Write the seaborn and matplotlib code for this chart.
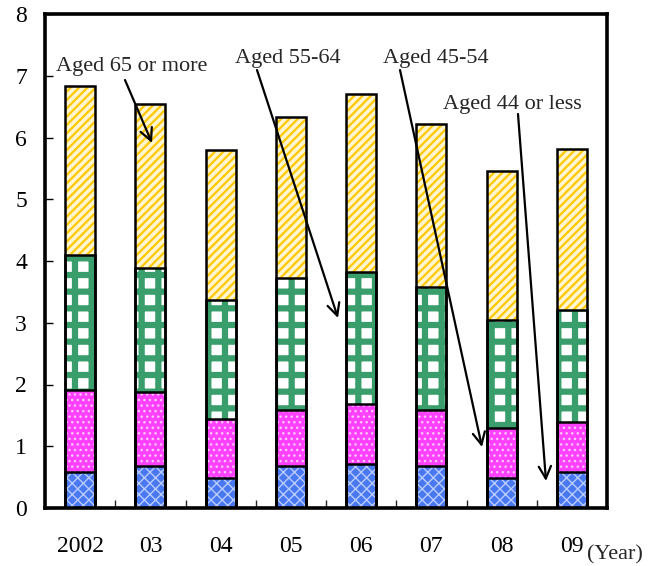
import matplotlib
matplotlib.use("Agg")
import matplotlib.pyplot as plt
import seaborn as sns
import pandas as pd
import numpy as np

years = ["2002", "03", "04", "05", "06", "07", "08", "09"]
aged_44_or_less = [0.58, 0.68, 0.49, 0.68, 0.71, 0.68, 0.49, 0.58]
aged_45_54 = [1.33, 1.20, 0.95, 0.91, 0.97, 0.91, 0.81, 0.81]
aged_55_64 = [2.18, 2.01, 1.93, 2.13, 2.14, 1.99, 1.74, 1.82]
aged_65_or_more = [2.74, 2.65, 2.43, 2.61, 2.88, 2.64, 2.42, 2.60]

sns.set_theme(style="white")
plt.rcParams["font.family"] = ["Liberation Serif", "DejaVu Serif"]

fig = plt.figure(figsize=(6.62, 5.66), dpi=100)
ax = fig.add_axes([45/662, 58/566, 562/662, 494/566])

c1 = np.array(aged_44_or_less)
c2 = c1 + np.array(aged_45_54)
c3 = c2 + np.array(aged_55_64)
c4 = c3 + np.array(aged_65_or_more)

layers = [
    (c4, "#FFF6D0", "#FFC800", "////", 1.6),
    (c3, "#FFFFFF", "#3A9E6C", "+", 4.5),
    (c2, "#FF40FF", "#FFC8FF", "...", 1.0),
    (c1, "#4A78F0", "#B8CCFF", "xxx", 1.0),
]
W = 0.43
for vals, fc, hc, hatch, hlw in layers:
    plt.rcParams["hatch.linewidth"] = hlw
    df = pd.DataFrame({"year": years, "v": vals})
    n0 = len(ax.patches)
    sns.barplot(data=df, x="year", y="v", order=years, width=W, color="white",
                saturation=1, errorbar=None, ax=ax, linewidth=0)
    for p in ax.patches[n0:]:
        p.set_facecolor(fc)
        p.set_edgecolor(hc)
        p.set_hatch(hatch)
        p.set_linewidth(0)

# black outlines
for vals in [c4, c3, c2, c1]:
    df = pd.DataFrame({"year": years, "v": vals})
    n0 = len(ax.patches)
    sns.barplot(data=df, x="year", y="v", order=years, width=W, fill=False,
                errorbar=None, ax=ax, linewidth=1.8, edgecolor="black")
    for p in ax.patches[n0:]:
        p.set_facecolor("none")
        p.set_edgecolor("black")
        p.set_linewidth(1.8)

ax.set_xlim(-0.5, 7.5)
ax.set_ylim(0, 8)
ax.set_yticks(range(0, 9))
ax.set_xlabel("")
ax.set_ylabel("")
for s in ax.spines.values():
    s.set_linewidth(2.6)
    s.set_color("black")
ax.tick_params(axis="y", direction="in", length=6, width=1, left=True, labelsize=17,
               colors="black", pad=13)
ax.tick_params(axis="x", which="major", length=0, labelsize=17, pad=20, colors="black")
ax.set_xticks(np.arange(0.5, 7.5, 1.0), minor=True)
ax.tick_params(axis="x", which="minor", direction="in", length=6, width=1, bottom=True)
ax.grid(False)

fig.text(587/662, (566-555)/566, "(Year)", fontsize=16, ha="left", va="center")

def px2data(px, py):
    return ((px - 45) / 562 * 8 - 0.5, (508 - py) / 494 * 8)

arrow = dict(arrowstyle="->", color="black", lw=1.6, mutation_scale=22, shrinkA=0, shrinkB=0)
notes = [
    ("Aged 65 or more", (132, 66), (125, 80), (152, 143)),
    ("Aged 55-64", (288, 58), (257, 70), (338, 318)),
    ("Aged 45-54", (436, 59), (400, 70), (482, 447)),
    ("Aged 44 or less", (512, 104), (518, 114), (546, 481)),
]
for txt, tpos, start, end in notes:
    ax.text(*px2data(*tpos), txt, fontsize=16, ha="center", va="center")
    ax.annotate("", xy=px2data(*end), xytext=px2data(*start), arrowprops=arrow)

fig.savefig("out.png", dpi=100)
